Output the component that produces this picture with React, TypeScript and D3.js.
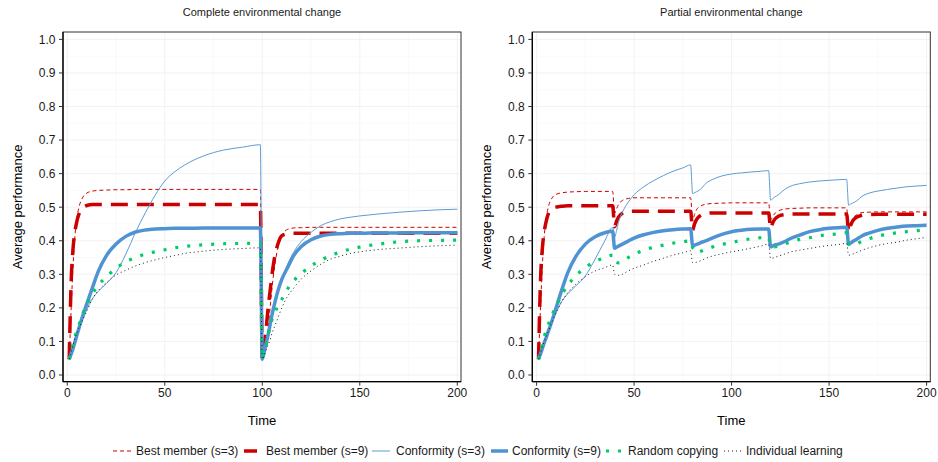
import React from 'react';
import * as d3 from 'd3';

// time grid + values for the "complete" panel
const timesComplete = [
  1, 2, 3, 4, 5, 6, 8, 10, 13, 16, 20, 25, 30, 35, 40, 45, 50, 55, 60, 70, 80, 90, 99,
  100, 101, 102, 103, 104, 105, 106, 108, 110, 113, 116, 120, 125, 130, 135, 140, 145, 150, 155, 160, 170, 180, 190, 200,
];
const completeBest3 = [
  0.047, 0.2, 0.33, 0.42, 0.47, 0.5, 0.53, 0.542, 0.548, 0.55, 0.551, 0.552, 0.552, 0.553, 0.553, 0.553, 0.553, 0.553, 0.553, 0.553, 0.553, 0.553, 0.553,
  0.047, 0.07, 0.1, 0.14, 0.2, 0.26, 0.31, 0.38, 0.415, 0.434, 0.438, 0.439, 0.44, 0.44, 0.44, 0.44, 0.44, 0.44, 0.44, 0.44, 0.44, 0.44, 0.44, 0.44,
];
const completeBest9 = [
  0.047, 0.28, 0.38, 0.43, 0.46, 0.48, 0.498, 0.505, 0.508, 0.508, 0.508, 0.508, 0.508, 0.508, 0.508, 0.508, 0.508, 0.508, 0.508, 0.508, 0.508, 0.508, 0.508,
  0.047, 0.09, 0.14, 0.2, 0.25, 0.3, 0.34, 0.39, 0.415, 0.421, 0.422, 0.422, 0.422, 0.422, 0.422, 0.422, 0.422, 0.422, 0.422, 0.422, 0.422, 0.422, 0.422, 0.422,
];
const completeConf3 = [
  0.047, 0.07, 0.09, 0.11, 0.125, 0.14, 0.167, 0.195, 0.228, 0.25, 0.272, 0.305, 0.36, 0.425, 0.483, 0.535, 0.578, 0.605, 0.625, 0.653, 0.67, 0.679, 0.686,
  0.047, 0.07, 0.095, 0.12, 0.15, 0.175, 0.2, 0.245, 0.285, 0.33, 0.365, 0.398, 0.425, 0.445, 0.457, 0.465, 0.47, 0.474, 0.477, 0.48, 0.485, 0.489, 0.492, 0.494,
];
const completeConf9 = [
  0.047, 0.063, 0.08, 0.1, 0.12, 0.14, 0.178, 0.212, 0.262, 0.31, 0.355, 0.39, 0.413, 0.426, 0.432, 0.435, 0.436, 0.437, 0.437, 0.438, 0.438, 0.438, 0.438,
  0.047, 0.07, 0.095, 0.12, 0.15, 0.18, 0.205, 0.25, 0.285, 0.32, 0.355, 0.383, 0.403, 0.414, 0.419, 0.421, 0.422, 0.422, 0.423, 0.423, 0.423, 0.424, 0.424, 0.424,
];
const completeRandom = [
  0.047, 0.07, 0.095, 0.115, 0.135, 0.15, 0.184, 0.21, 0.243, 0.268, 0.292, 0.318, 0.337, 0.35, 0.36, 0.367, 0.373, 0.379, 0.383, 0.388, 0.391, 0.392, 0.393,
  0.047, 0.07, 0.09, 0.12, 0.145, 0.165, 0.18, 0.205, 0.225, 0.257, 0.28, 0.302, 0.325, 0.342, 0.356, 0.366, 0.375, 0.381, 0.386, 0.39, 0.397, 0.4, 0.401, 0.402,
];
const completeIndividual = [
  0.047, 0.07, 0.09, 0.11, 0.125, 0.14, 0.165, 0.19, 0.228, 0.252, 0.275, 0.298, 0.312, 0.325, 0.335, 0.343, 0.35, 0.356, 0.362, 0.369, 0.374, 0.377, 0.379,
  0.047, 0.06, 0.075, 0.09, 0.105, 0.125, 0.14, 0.17, 0.2, 0.235, 0.258, 0.286, 0.31, 0.33, 0.345, 0.354, 0.362, 0.367, 0.371, 0.374, 0.378, 0.382, 0.385, 0.387,
];

// time grid + values for the "partial" panel
const timesPartial = [
  1, 2, 3, 4, 5, 6, 8, 10, 13, 16, 20, 25, 30, 35, 39,
  40, 41, 42, 44, 47, 50, 55, 60, 65, 70, 75, 79,
  80, 81, 82, 84, 87, 90, 95, 100, 105, 110, 115, 119,
  120, 121, 122, 124, 127, 130, 135, 140, 145, 150, 155, 159,
  160, 161, 162, 164, 167, 170, 175, 180, 185, 190, 195, 200,
];
const partialBest3 = [
  0.047, 0.2, 0.33, 0.42, 0.47, 0.5, 0.528, 0.538, 0.543, 0.545, 0.546, 0.547, 0.547, 0.547, 0.547,
  0.482, 0.495, 0.508, 0.52, 0.526, 0.528, 0.528, 0.528, 0.528, 0.528, 0.528, 0.528,
  0.46, 0.478, 0.492, 0.503, 0.509, 0.511, 0.512, 0.513, 0.513, 0.513, 0.513, 0.513,
  0.462, 0.472, 0.48, 0.489, 0.494, 0.496, 0.497, 0.498, 0.498, 0.498, 0.498, 0.498,
  0.432, 0.45, 0.465, 0.477, 0.484, 0.485, 0.486, 0.486, 0.486, 0.486, 0.486, 0.486,
];
const partialBest9 = [
  0.047, 0.28, 0.38, 0.43, 0.46, 0.48, 0.495, 0.5, 0.503, 0.504, 0.504, 0.504, 0.504, 0.504, 0.504,
  0.442, 0.458, 0.47, 0.482, 0.487, 0.488, 0.488, 0.488, 0.488, 0.488, 0.488, 0.488,
  0.432, 0.45, 0.463, 0.475, 0.481, 0.483, 0.483, 0.483, 0.483, 0.483, 0.483, 0.483,
  0.437, 0.452, 0.463, 0.473, 0.478, 0.48, 0.48, 0.48, 0.48, 0.48, 0.48, 0.48,
  0.427, 0.445, 0.458, 0.47, 0.476, 0.478, 0.479, 0.479, 0.479, 0.479, 0.479, 0.479,
];
const partialConf3 = [
  0.047, 0.065, 0.085, 0.1, 0.115, 0.13, 0.16, 0.185, 0.22, 0.242, 0.265, 0.295, 0.345, 0.4, 0.44,
  0.41, 0.43, 0.455, 0.485, 0.515, 0.537, 0.561, 0.579, 0.594, 0.607, 0.617, 0.626,
  0.541, 0.543, 0.546, 0.553, 0.572, 0.582, 0.593, 0.599, 0.602, 0.605, 0.607, 0.609,
  0.521, 0.525, 0.53, 0.537, 0.552, 0.562, 0.57, 0.575, 0.578, 0.58, 0.582, 0.583,
  0.506, 0.509, 0.512, 0.518, 0.533, 0.541, 0.548, 0.553, 0.557, 0.561, 0.563, 0.565,
];
const partialConf9 = [
  0.047, 0.063, 0.08, 0.097, 0.113, 0.13, 0.163, 0.2, 0.255, 0.305, 0.352, 0.39, 0.412, 0.424, 0.428,
  0.378, 0.381, 0.384, 0.39, 0.399, 0.408, 0.418, 0.425, 0.43, 0.433, 0.435, 0.436,
  0.385, 0.387, 0.389, 0.394, 0.4, 0.408, 0.419, 0.427, 0.431, 0.434, 0.435, 0.435,
  0.382, 0.384, 0.387, 0.39, 0.397, 0.406, 0.417, 0.427, 0.433, 0.437, 0.439, 0.44,
  0.39, 0.393, 0.397, 0.404, 0.415, 0.422, 0.431, 0.437, 0.441, 0.444, 0.445, 0.446,
];
const partialRandom = [
  0.047, 0.07, 0.09, 0.115, 0.135, 0.15, 0.18, 0.205, 0.24, 0.267, 0.295, 0.32, 0.338, 0.35, 0.357,
  0.338, 0.335, 0.334, 0.337, 0.35, 0.359, 0.372, 0.381, 0.387, 0.393, 0.397, 0.4,
  0.38, 0.372, 0.364, 0.368, 0.375, 0.381, 0.389, 0.395, 0.401, 0.406, 0.409, 0.411,
  0.382, 0.382, 0.382, 0.384, 0.39, 0.396, 0.404, 0.409, 0.415, 0.418, 0.421, 0.424,
  0.389, 0.389, 0.389, 0.391, 0.399, 0.405, 0.414, 0.419, 0.424, 0.427, 0.43, 0.432,
];
const partialIndividual = [
  0.047, 0.065, 0.085, 0.1, 0.115, 0.13, 0.16, 0.185, 0.22, 0.245, 0.27, 0.293, 0.31, 0.32, 0.328,
  0.3, 0.298, 0.297, 0.3, 0.31, 0.318, 0.328, 0.339, 0.348, 0.357, 0.364, 0.37,
  0.335, 0.335, 0.336, 0.34, 0.348, 0.354, 0.361, 0.367, 0.372, 0.378, 0.384, 0.39,
  0.347, 0.348, 0.35, 0.354, 0.36, 0.366, 0.372, 0.377, 0.382, 0.386, 0.389, 0.392,
  0.357, 0.358, 0.36, 0.365, 0.372, 0.378, 0.386, 0.392, 0.396, 0.402, 0.406, 0.41,
];

const seriesNames = [
  'Best member (s=3)',
  'Best member (s=9)',
  'Conformity (s=3)',
  'Conformity (s=9)',
  'Random copying',
  'Individual learning',
];
const panelTitles = ['Complete environmental change', 'Partial environmental change'];
const xTicks = [0, 50, 100, 150, 200];
const xMinor = [25, 75, 125, 175];
const yTicks = [0, 0.1, 0.2, 0.3, 0.4, 0.5, 0.6, 0.7, 0.8, 0.9, 1.0];
const yMinor = [0.05, 0.15, 0.25, 0.35, 0.45, 0.55, 0.65, 0.75, 0.85, 0.95];

const W = 938;
const H = 462;
const PANEL_W = 398;
const TOP = 32;
const BOTTOM = 381.7;
const FONT = '"Liberation Sans", Arial, Helvetica, sans-serif';

const lineStyles = [
  { color: '#cc0000', width: 1, dash: '4,3' },
  { color: '#cc0000', width: 3.5, dash: '17,9' },
  { color: '#5b9bd5', width: 1, dash: null },
  { color: '#4f93d2', width: 3.5, dash: null },
  { color: '#00cc66', width: 3.2, dash: '3,9' },
  { color: '#1a1a1a', width: 1, dash: '1,3' },
];

// legend layout (key start, key end, text x)
const legendPos = [
  [113, 132, 136],
  [244, 257, 266],
  [372, 390, 396],
  [491, 508, 512],
  [606, 624, 628],
  [724, 742, 746],
];

type PanelProps = {
  id: string;
  left: number;
  title: string;
  times: number[];
  values: number[][];
};

function Panel({ id, left, title, times, values }: PanelProps) {
  const right = left + PANEL_W;
  const x = d3.scaleLinear().domain([-2.2, 201.9]).range([left, right]);
  const y = d3.scaleLinear().domain([-0.02, 1.022]).range([BOTTOM, TOP]);
  const line = d3
    .line<number>()
    .x((_, i) => x(times[i]))
    .y((v) => y(v))
    .curve(d3.curveMonotoneX);
  const cx = (left + right) / 2;

  return (
    <g>
      <defs>
        <clipPath id={id}>
          <rect x={left} y={TOP} width={PANEL_W} height={BOTTOM - TOP} />
        </clipPath>
      </defs>
      <text x={cx} y={15.5} textAnchor="middle" fontSize={11} fill="#1a1a1a">
        {title}
      </text>
      <rect x={left} y={TOP} width={PANEL_W} height={BOTTOM - TOP} fill="#fff" />
      {/* grid */}
      {xMinor.map((t) => (
        <line key={'xm' + t} x1={x(t)} x2={x(t)} y1={TOP} y2={BOTTOM} stroke="#f6f6f6" strokeWidth={0.6} />
      ))}
      {yMinor.map((t) => (
        <line key={'ym' + t} x1={left} x2={right} y1={y(t)} y2={y(t)} stroke="#f6f6f6" strokeWidth={0.6} />
      ))}
      {xTicks.map((t) => (
        <line key={'xg' + t} x1={x(t)} x2={x(t)} y1={TOP} y2={BOTTOM} stroke="#efefef" strokeWidth={0.8} />
      ))}
      {yTicks.map((t) => (
        <line key={'yg' + t} x1={left} x2={right} y1={y(t)} y2={y(t)} stroke="#efefef" strokeWidth={0.8} />
      ))}
      {/* series */}
      <g clipPath={`url(#${id})`}>
        {values.map((vals, i) => (
          <path
            key={i}
            d={line(vals) || ''}
            fill="none"
            stroke={lineStyles[i].color}
            strokeWidth={lineStyles[i].width}
            strokeDasharray={lineStyles[i].dash || undefined}
            strokeLinejoin="round"
          />
        ))}
      </g>
      {/* border */}
      <rect x={left} y={TOP} width={PANEL_W} height={BOTTOM - TOP} fill="none" stroke="#333" strokeWidth={1} />
      <line x1={left} x2={left} y1={TOP} y2={BOTTOM} stroke="#000" strokeWidth={1.3} />
      <line x1={left} x2={right} y1={BOTTOM} y2={BOTTOM} stroke="#000" strokeWidth={1.3} />
      {/* y axis */}
      {yTicks.map((t) => (
        <g key={'yt' + t}>
          <line x1={left - 4} x2={left} y1={y(t)} y2={y(t)} stroke="#333" strokeWidth={1} />
          <text x={left - 7.5} y={y(t)} dy="0.36em" textAnchor="end" fontSize={12} fill="#1a1a1a">
            {t.toFixed(1)}
          </text>
        </g>
      ))}
      {/* x axis */}
      {xTicks.map((t) => (
        <g key={'xt' + t}>
          <line x1={x(t)} x2={x(t)} y1={BOTTOM} y2={BOTTOM + 4} stroke="#333" strokeWidth={1} />
          <text x={x(t)} y={397} textAnchor="middle" fontSize={12} fill="#1a1a1a">
            {t}
          </text>
        </g>
      ))}
      <text x={cx} y={425} textAnchor="middle" fontSize={13} fill="#000">
        Time
      </text>
      <text
        transform={`translate(${left - 41.5},${(TOP + BOTTOM) / 2}) rotate(-90)`}
        textAnchor="middle"
        fontSize={13}
        fill="#000"
      >
        Average performance
      </text>
    </g>
  );
}

export default function App() {
  const complete = [completeBest3, completeBest9, completeConf3, completeConf9, completeRandom, completeIndividual];
  const partial = [partialBest3, partialBest9, partialConf3, partialConf9, partialRandom, partialIndividual];

  return (
    <svg
      width={W}
      height={H}
      viewBox={`0 0 ${W} ${H}`}
      style={{ position: 'absolute', left: 0, top: 0, background: '#fff', fontFamily: FONT }}
    >
      <rect width={W} height={H} fill="#fff" />
      <Panel id="clip-complete" left={63} title={panelTitles[0]} times={timesComplete} values={complete} />
      <Panel id="clip-partial" left={532.3} title={panelTitles[1]} times={timesPartial} values={partial} />
      {/* legend */}
      <g>
        {seriesNames.map((name, i) => {
          const [k0, k1, tx] = legendPos[i];
          const s = lineStyles[i];
          return (
            <g key={name}>
              <line
                x1={k0}
                x2={k1}
                y1={451}
                y2={451}
                stroke={s.color}
                strokeWidth={s.width}
                strokeDasharray={i === 1 ? undefined : s.dash || undefined}
              />
              <text x={tx} y={451} dy="0.36em" fontSize={12} fill="#1a1a1a">
                {name}
              </text>
            </g>
          );
        })}
      </g>
    </svg>
  );
}
